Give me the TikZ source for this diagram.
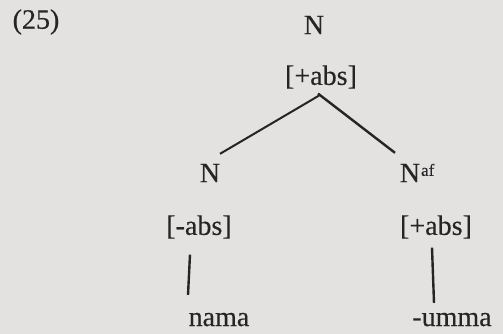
\documentclass[tikz,border=0pt]{standalone}
\usepackage{fontspec}
\setmainfont[FakeBold=0.4]{Liberation Serif}
\definecolor{bg}{HTML}{E4E1E1}
\definecolor{ink}{HTML}{262424}
\begin{document}
\begin{tikzpicture}[x=1pt,y=1pt,
  every node/.style={inner sep=0pt,outer sep=0pt,text=ink,font=\fontsize{28}{30}\selectfont},
  tree/.style={draw=ink,line width=2pt}]
\fill[bg] (0,0) rectangle (503,-334);
\clip (0,0) rectangle (503,-334);
\useasboundingbox (0,0) rectangle (503,-334);
\node (ex) at (36,-22) {(25)};
\node (n0) at (314,-25) {N};
\node (f0) at (321,-77) {[+abs]};
\node (n1) at (210,-173) {N};
\node (n2) at (410,-173) {N};
\node[anchor=north west,font=\fontsize{17}{18}\selectfont] (af) at ([xshift=1pt]n2.north east) {af};
\node (f1) at (199,-227) {[-abs]};
\node (f2) at (436,-227) {[+abs]};
\node[anchor=base] (w1) at (219,-326) {nama};
\node[anchor=base] (w2) at (452,-326) {-umma};
\draw[tree] ([xshift=-2pt,yshift=-7pt]f0.south) -- ([xshift=10pt,yshift=10pt]n1.north);
\draw[tree,line width=2.4pt] ([xshift=-3pt,yshift=-5pt]f0.south) -- ([xshift=-15pt,yshift=11pt]n2.north);
\draw[tree,line width=2.4pt] ([xshift=-9pt,yshift=-16pt]f1.south) -- ([xshift=-31pt,yshift=18pt]w1.north);
\draw[tree,line width=2.4pt] ([xshift=-4pt,yshift=-9pt]f2.south) -- ([xshift=-18pt,yshift=10pt]w2.north);
\end{tikzpicture}
\end{document}
